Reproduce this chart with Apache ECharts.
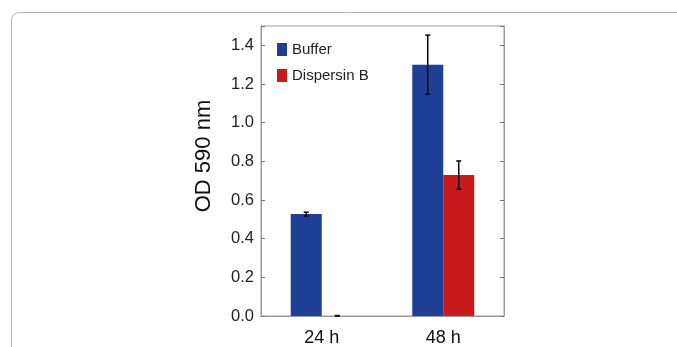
<!DOCTYPE html>
<html><head><meta charset="utf-8">
<script src="https://cdn.jsdelivr.net/npm/echarts@6/dist/echarts.min.js"></script>
<style>html,body{margin:0;padding:0;background:#fff}#c{width:677px;height:347px}</style>
</head><body><div id="c"></div>
<script>
const categories = ['24 h', '48 h'];
const seriesNames = ['Buffer', 'Dispersin B'];
const bufferValues = [0.527, 1.30];
const bufferErrors = [0.010, 0.153];
const dispersinValues = [0.0, 0.729];
const dispersinErrors = [0.002, 0.073];
const yTicks = [0, 0.2, 0.4, 0.6, 0.8, 1.0, 1.2, 1.4];

const FONT = '"Liberation Sans", Arial, sans-serif';
const BAR_W = 31;
const chart = echarts.init(document.getElementById('c'));

function errSeries(name, values, errs, offset) {
  return {
    type: 'custom', name: name + ' err', z: 10, silent: true,
    data: values.map((v, i) => [i, v, errs[i]]),
    renderItem: function (params, api) {
      const i = api.value(0), v = api.value(1), e = api.value(2);
      const top = api.coord([i, v + e]);
      const bot = api.coord([i, Math.max(0, v - e)]);
      const x = top[0] + offset;
      const style = { stroke: '#111', lineWidth: 1.6 };
      return { type: 'group', children: [
        { type: 'line', shape: { x1: x, y1: top[1], x2: x, y2: bot[1] }, style },
        { type: 'line', shape: { x1: x - 2.5, y1: top[1], x2: x + 2.5, y2: top[1] }, style },
        { type: 'line', shape: { x1: x - 2.5, y1: bot[1], x2: x + 2.5, y2: bot[1] }, style }
      ]};
    }
  };
}

chart.setOption({
  animation: false,
  backgroundColor: '#fff',
  grid: { left: 261, right: 173, top: 26, bottom: 31, show: true, borderColor: '#9a9a9a', borderWidth: 1 },
  legend: {
    orient: 'vertical', left: 277, top: 42, padding: 0, itemWidth: 10, itemHeight: 13, itemGap: 11,
    icon: 'rect', data: seriesNames,
    textStyle: { fontFamily: FONT, fontSize: 15, color: '#222' }
  },
  xAxis: {
    type: 'category', data: categories,
    axisLine: { lineStyle: { color: '#9a9a9a' } },
    axisTick: { show: false },
    axisLabel: { fontFamily: FONT, fontSize: 18, color: '#111', margin: 13 }
  },
  yAxis: [{
    type: 'value', min: 0, max: 1.5, interval: 0.2,
    axisLine: { show: true, lineStyle: { color: '#9a9a9a' } },
    axisTick: { show: true, inside: true, length: 4, lineStyle: { color: '#777' } },
    splitLine: { show: false },
    axisLabel: {
      fontFamily: FONT, fontSize: 16.5, color: '#222', margin: 7,
      formatter: v => yTicks.some(t => Math.abs(t - v) < 1e-6) ? v.toFixed(1) : ''
    },
    name: ''
  }, {
    type: 'value', min: 0, max: 1.5, interval: 0.2, position: 'right',
    axisLine: { show: true, lineStyle: { color: '#9a9a9a' } },
    axisTick: { show: true, inside: true, length: 4, lineStyle: { color: '#777' } },
    axisLabel: { show: false }, splitLine: { show: false }
  }],
  graphic: [
    { type: 'rect', z: -10, shape: { x: 11.5, y: 12.5, width: 800, height: 500, r: 8 },
      style: { fill: 'none', stroke: '#b5b5b5', lineWidth: 1 } },
    { type: 'text', x: 204, y: 156, rotation: Math.PI / 2,
      style: { text: 'OD 590 nm', fontFamily: FONT, fontSize: 22, fill: '#111', align: 'center', verticalAlign: 'middle' } }
  ],
  series: [
    { type: 'bar', name: seriesNames[0], data: bufferValues, barWidth: BAR_W, barGap: '0%', itemStyle: { color: '#1f3f96' } },
    { type: 'bar', name: seriesNames[1], data: dispersinValues, barWidth: BAR_W, barGap: '0%', itemStyle: { color: '#c81a1d' } },
    errSeries(seriesNames[0], bufferValues, bufferErrors, -BAR_W / 2),
    errSeries(seriesNames[1], dispersinValues, dispersinErrors, BAR_W / 2)
  ]
});
</script></body></html>
